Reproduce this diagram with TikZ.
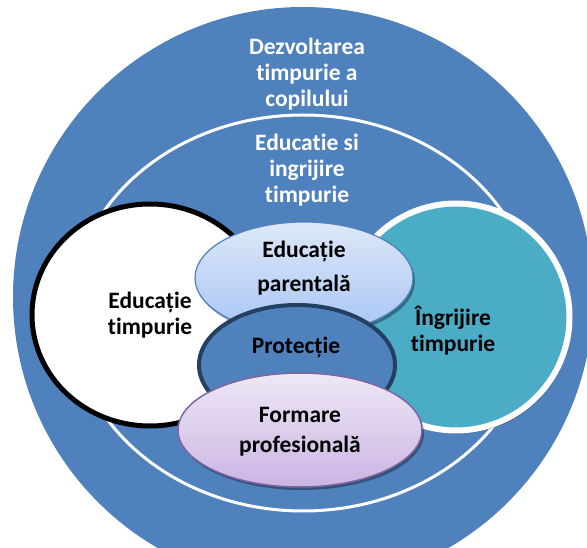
\documentclass[tikz,border=0pt]{standalone}
\usepackage{fontspec}
\setmainfont{Carlito}[Ligatures=NoCommon]
\usetikzlibrary{shapes.geometric,shadows}
\definecolor{ringblue}{HTML}{4F81BD}
\definecolor{aqua}{HTML}{4BACC6}
\definecolor{navyline}{HTML}{243F60}
\definecolor{parenttop}{HTML}{DDE8F8}
\definecolor{parentbot}{HTML}{A8C5F4}
\definecolor{lilactop}{HTML}{EEE8F6}
\definecolor{lilacbot}{HTML}{CBB5E3}
\definecolor{lilacline}{HTML}{8064A2}

\tikzset{
  lbl/.style={font=\bfseries\fontsize{23.5}{26}\selectfont, align=center, inner sep=0pt},
  oval/.style={ellipse, inner sep=0pt},
  softshadow/.style={drop shadow={shadow xshift=2pt, shadow yshift=-3pt, fill=black, opacity=0.35}}
}

\begin{document}
\begin{tikzpicture}[x=1pt,y=-1pt]
            \useasboundingbox (0,0) rectangle (587,548);
            \clip (0,0) rectangle (587,548);
            % Outer disc
            \fill[ringblue] (303,297) circle (290);
            \node[lbl, text=white] (devtext) at (307,74) {Dezvoltarea\\timpurie a\\copilului};
            % Inner ring
            \draw[white, line width=3pt] (303,313) ellipse (232 and 198);
            \node[lbl, text=white] (eictext) at (307,170) {Educatie si\\ingrijire\\timpurie};
            % Side circles
            \node[oval, draw=black, line width=5pt, fill=white, minimum width=236pt, minimum height=222pt] (edu) at (150,315) {};
            \node[lbl] (edutext) at (150,315) {Educație\\timpurie};
            \node[oval, draw=white, line width=6pt, fill=aqua, softshadow, minimum width=227pt, minimum height=227pt] (care) at (456,317) {};
            \node[lbl] (caretext) at (453,331) {Îngrijire\\timpurie};
            % Middle ovals
            \node[oval, draw=ringblue, line width=1.2pt, top color=parenttop, bottom color=parentbot, softshadow, minimum width=218pt, minimum height=112pt] (parent) at (304,278) {};
            \node[lbl, font=\bfseries\fontsize{23.5}{34}\selectfont] (parenttext) at (304,268) {Educație\\parentală};
            \node[oval, draw=navyline, line width=4pt, fill=ringblue, minimum width=196pt, minimum height=120pt] (protect) at (297,365) {};
            \node[lbl] (protecttext) at (296,347) {Protecție};
            \node[oval, draw=lilacline, line width=1.5pt, top color=lilactop, bottom color=lilacbot, softshadow, minimum width=244pt, minimum height=114pt] (train) at (300,430) {};
            \node[lbl, font=\bfseries\fontsize{23.5}{30}\selectfont] (traintext) at (300,432) {Formare\\profesională};
        \end{tikzpicture}
\end{document}
